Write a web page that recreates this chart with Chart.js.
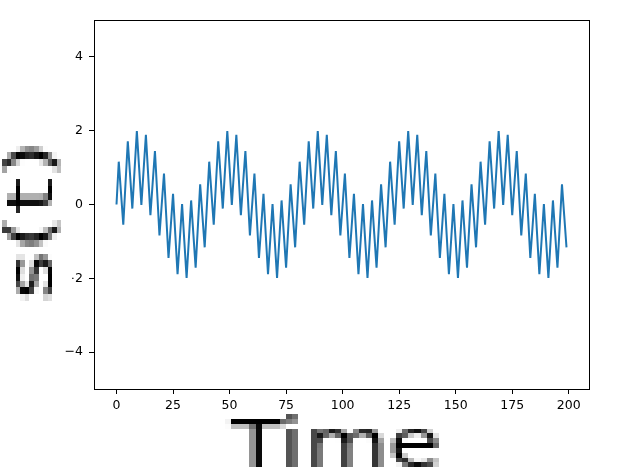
<!DOCTYPE html>
<html>
<head>
<meta charset="utf-8">
<script src="https://cdn.jsdelivr.net/npm/chart.js@4"></script>
<style>
  body { margin: 0; background: #fff; }
  #wrap { width: 629px; height: 474px; }
</style>
</head>
<body>
<div id="wrap"><canvas id="signal"></canvas></div>
<script>
const signal = [
    0, 1.16, 0.31, -0.55, 0.59, 1.71, 0.81, -0.11, 0.95, 1.99,
    1.00, -0.01, 0.95, 1.89, 0.81, -0.29, 0.59, 1.45, 0.31, -0.84,
    0, 0.84, -0.31, -1.45, -0.59, 0.29, -0.81, -1.89, -0.95, 0.01,
    -1.00, -1.99, -0.95, 0.11, -0.81, -1.71, -0.59, 0.55, -0.31, -1.16,
    0, 1.16, 0.31, -0.55, 0.59, 1.71, 0.81, -0.11, 0.95, 1.99,
    1.00, -0.01, 0.95, 1.89, 0.81, -0.29, 0.59, 1.45, 0.31, -0.84,
    0, 0.84, -0.31, -1.45, -0.59, 0.29, -0.81, -1.89, -0.95, 0.01,
    -1.00, -1.99, -0.95, 0.11, -0.81, -1.71, -0.59, 0.55, -0.31, -1.16,
    0, 1.16, 0.31, -0.55, 0.59, 1.71, 0.81, -0.11, 0.95, 1.99,
    1.00, -0.01, 0.95, 1.89, 0.81, -0.29, 0.59, 1.45, 0.31, -0.84,
    0, 0.84, -0.31, -1.45, -0.59, 0.29, -0.81, -1.89, -0.95, 0.01,
    -1.00, -1.99, -0.95, 0.11, -0.81, -1.71, -0.59, 0.55, -0.31, -1.16,
    0, 1.16, 0.31, -0.55, 0.59, 1.71, 0.81, -0.11, 0.95, 1.99,
    1.00, -0.01, 0.95, 1.89, 0.81, -0.29, 0.59, 1.45, 0.31, -0.84,
    0, 0.84, -0.31, -1.45, -0.59, 0.29, -0.81, -1.89, -0.95, 0.01,
    -1.00, -1.99, -0.95, 0.11, -0.81, -1.71, -0.59, 0.55, -0.31, -1.16,
    0, 1.16, 0.31, -0.55, 0.59, 1.71, 0.81, -0.11, 0.95, 1.99,
    1.00, -0.01, 0.95, 1.89, 0.81, -0.29, 0.59, 1.45, 0.31, -0.84,
    0, 0.84, -0.31, -1.45, -0.59, 0.29, -0.81, -1.89, -0.95, 0.01,
    -1.00, -1.99, -0.95, 0.11, -0.81, -1.71, -0.59, 0.55, -0.31, -1.16
];
const xTicks = [0, 25, 50, 75, 100, 125, 150, 175, 200];
const yTicks = [-4, -2, 0, 2, 4];
const xLabel = 'Time';
const yLabel = 's(t)';

const points = signal.map((v, i) => ({ x: i, y: v }));

var fmt = function(v) {
    return v < 0 ? '\u2212' + Math.abs(v) : String(v);
};

// small text blown up without smoothing, like the blocky labels in the picture
function blockyText(ctx, text, dx, dy, dw, dh, rotate) {
    const off = document.createElement('canvas');
    const octx = off.getContext('2d');
    octx.font = '14px "DejaVu Sans"';
    const m = octx.measureText(text);
    off.width = Math.ceil(m.actualBoundingBoxLeft + m.actualBoundingBoxRight) + 1;
    off.height = Math.ceil(m.actualBoundingBoxAscent + m.actualBoundingBoxDescent) + 1;
    octx.fillStyle = '#fff';
    octx.fillRect(0, 0, off.width, off.height);
    octx.font = '14px "DejaVu Sans"';
    octx.fillStyle = '#000';
    octx.textBaseline = 'alphabetic';
    octx.fillText(text, m.actualBoundingBoxLeft, m.actualBoundingBoxAscent);
    ctx.save();
    ctx.imageSmoothingEnabled = false;
    if (rotate) {
        ctx.translate(dx + dw / 2, dy + dh / 2);
        ctx.rotate(-Math.PI / 2);
        ctx.drawImage(off, -dh / 2, -dw / 2, dh, dw);
    } else {
        ctx.drawImage(off, dx, dy, dw, dh);
    }
    ctx.restore();
}

const frameAndLabels = {
    id: 'frameAndLabels',
    afterDraw(chart) {
        const ctx = chart.ctx;
        const a = chart.chartArea;
        ctx.save();
        ctx.strokeStyle = '#000';
        ctx.lineWidth = 1;
        ctx.strokeRect(Math.round(a.left) + 0.5, Math.round(a.top) + 0.5,
            Math.round(a.right - a.left), Math.round(a.bottom - a.top));
        ctx.fillStyle = '#fff';
        ctx.fillRect(0, 135, 72, 166);
        ctx.restore();
        blockyText(ctx, yLabel, 2, 132, 64, 169, true);
        blockyText(ctx, xLabel, 225, 414, 220, 58, false);
    }
};

const tickFont = { family: 'DejaVu Sans', size: 12.5 };

new Chart(document.getElementById('signal').getContext('2d'), {
    type: 'line',
    data: {
        datasets: [{
            data: points,
            borderColor: '#1f77b4',
            borderWidth: 2,
            pointRadius: 0,
            tension: 0,
            fill: false
        }]
    },
    options: {
        responsive: true,
        maintainAspectRatio: false,
        animation: false,
        layout: { padding: { top: 20, right: 40, left: 0, bottom: 0 } },
        plugins: {
            legend: { display: false },
            tooltip: { enabled: false }
        },
        scales: {
            x: {
                type: 'linear',
                min: -9.95,
                max: 208.95,
                afterBuildTicks: (s) => { s.ticks = xTicks.map(v => ({ value: v })); },
                afterFit: (s) => { s.height = 85; },
                grid: { drawOnChartArea: false, tickLength: 5, color: '#000' },
                border: { display: false },
                ticks: { color: '#000', font: tickFont, padding: 4, maxRotation: 0, callback: fmt }
            },
            y: {
                min: -5,
                max: 5,
                afterBuildTicks: (s) => { s.ticks = yTicks.map(v => ({ value: v })); },
                afterFit: (s) => { s.width = 94; },
                grid: { drawOnChartArea: false, tickLength: 5, color: '#000' },
                border: { display: false },
                ticks: { color: '#000', font: tickFont, padding: 6, callback: fmt }
            }
        }
    },
    plugins: [frameAndLabels]
});
</script>
</body>
</html>
